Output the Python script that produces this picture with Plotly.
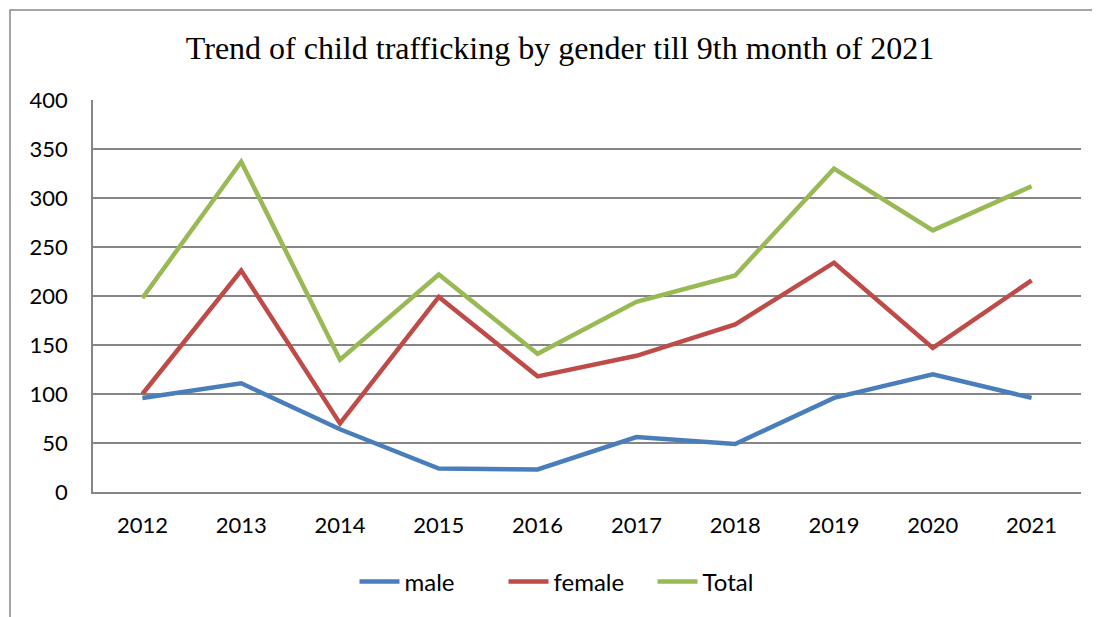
import plotly.graph_objects as go

years = ["2012", "2013", "2014", "2015", "2016", "2017", "2018", "2019", "2020", "2021"]
male = [96, 111, 64, 24, 23, 56, 49, 96, 120, 96]
female = [100, 226, 70, 199, 118, 139, 171, 234, 147, 216]
total = [198, 337, 135, 222, 141, 194, 221, 330, 267, 312]
y_ticks = [0, 50, 100, 150, 200, 250, 300, 350, 400]

series = [("male", male, "#4A7EBB"), ("female", female, "#BE4B48"), ("Total", total, "#98B954")]

fig = go.Figure()
for name, vals, col in series:
    fig.add_trace(go.Scatter(x=years, y=vals, name=name, mode="lines",
                             line=dict(color=col, width=4.5)))

OFF = 8  # page body margin
W, H = 1100 - OFF, 617 - OFF
# target screen coordinates of the plot area
SL, ST, SR, SB = 93, 100, 1081, 492
L, T = SL - OFF, ST - OFF
R, B = W - (SR - OFF), H - (SB - OFF)
pw, ph = SR - SL, SB - ST

def px2x(p):
    return (p - SL) / pw

def py2y(p):
    return (SB - p) / ph

fig.update_layout(
    width=W, height=H,
    margin=dict(l=L, r=R, t=T, b=B),
    paper_bgcolor="white", plot_bgcolor="white",
    title=dict(text="Trend of child trafficking by gender till 9th month of 2021",
               x=(560 - OFF) / W, y=1 - (48 - OFF) / H, xanchor="center", yanchor="middle",
               font=dict(family="Liberation Serif", size=32, color="black")),
    font=dict(family="Lato", size=22, color="black"),
    xaxis=dict(type="category", range=[-0.5, 9.5], showgrid=False,
               showline=True, linecolor="#868686", linewidth=1.5,
               ticks="", ticklabelstandoff=13,
               tickfont=dict(family="Lato", size=22, color="black")),
    yaxis=dict(range=[0, 400], tickvals=y_ticks, showgrid=True,
               gridcolor="#868686", gridwidth=1.5,
               showline=True, linecolor="#868686", linewidth=1.5,
               ticks="", ticklabelstandoff=19, zeroline=False,
               tickfont=dict(family="Lato", size=22, color="black")),
    legend=dict(orientation="h", x=px2x(578), xanchor="center", y=py2y(582), yanchor="middle",
                font=dict(family="Lato", size=24, color="black"),
                itemwidth=40, tracegroupgap=0, entrywidth=94, entrywidthmode="pixels"),
    showlegend=True,
)

fig.add_shape(type="rect", xref="paper", yref="paper",
              x0=px2x(10), x1=px2x(1130), y0=py2y(650), y1=py2y(10),
              line=dict(color="#888888", width=1.5), fillcolor="rgba(0,0,0,0)", layer="below")

fig.write_html("out.html")
